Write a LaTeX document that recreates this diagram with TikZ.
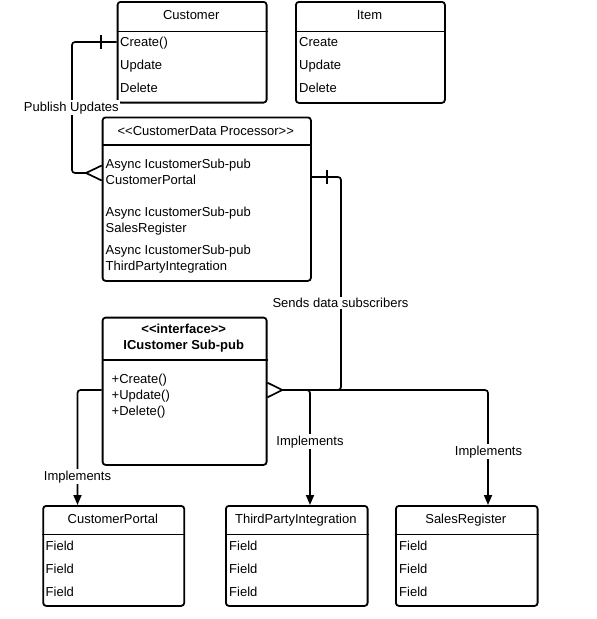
\documentclass[tikz,border=0pt]{standalone}
\usepackage{fontspec}
\setmainfont{Liberation Sans}
\usetikzlibrary{calc,arrows.meta}
\begin{document}
\begin{tikzpicture}[x=1pt,y=-1pt,
  umlbox/.style={draw, line width=1.8pt, rounded corners=3pt, rectangle, inner sep=0pt, anchor=north west},
  divider/.style={line width=1.2pt},
  txt/.style={inner sep=0pt, anchor=base west, font=\fontsize{13}{16}\selectfont},
  ttl/.style={inner sep=0pt, anchor=base, font=\fontsize{13}{16}\selectfont},
  btl/.style={inner sep=0pt, anchor=base, font=\fontsize{13}{16}\selectfont\bfseries},
  conn/.style={line width=1.7pt, rounded corners=3pt},
  endmark/.style={line width=1.7pt},
  arr/.style={-{Triangle[width=8pt,length=10pt]}},
  lbl/.style={fill=white, inner sep=1.2pt, anchor=base, font=\fontsize{13}{16}\selectfont}]
\useasboundingbox (0,0) rectangle (597,619);

% Customer
\node[umlbox, minimum width=149pt, minimum height=100.7pt] (cust) at (116.7,1) {};
\draw[divider] (cust.west |- 0,31.7) -- (cust.east |- 0,31.7);
\node[ttl] (custT) at (191.2,19.5) {Customer};
\node[txt] (custC) at (120,46) {Create()};
\node[txt] (custU) at (120,69) {Update};
\node[txt] (custD) at (120,92.5) {Delete};

% Item
\node[umlbox, minimum width=149pt, minimum height=101pt] (item) at (295,1) {};
\draw[divider] (item.west |- 0,31.7) -- (item.east |- 0,31.7);
\node[ttl] (itemT) at (369.5,19.5) {Item};
\node[txt] (itemC) at (299,46) {Create};
\node[txt] (itemU) at (299,69) {Update};
\node[txt] (itemD) at (299,92.5) {Delete};

% Processor
\node[umlbox, minimum width=208.3pt, minimum height=163.5pt] (proc) at (101.7,116.5) {};
\draw[divider] (proc.west |- 0,145) -- (proc.east |- 0,145);
\node[ttl] (procT) at (205.8,135) {<{}<CustomerData Processor>{}>};
\node[txt] (p1a) at (105.5,168.7) {Async IcustomerSub-pub};
\node[txt] (p1b) at (105.5,184.7) {CustomerPortal};
\node[txt] (p2a) at (105.5,216) {Async IcustomerSub-pub};
\node[txt] (p2b) at (105.5,232) {SalesRegister};
\node[txt] (p3a) at (105.5,254) {Async IcustomerSub-pub};
\node[txt] (p3b) at (105.5,270) {ThirdPartyIntegration};

% Interface
\node[umlbox, minimum width=164pt, minimum height=147.3pt] (iface) at (101.7,316.7) {};
\draw[divider] (iface.west |- 0,360) -- (iface.east |- 0,360);
\node[btl] (ifT1) at (183.7,333.3) {<{}<interface>{}>};
\node[btl] (ifT2) at (183.7,349.3) {ICustomer Sub-pub};
\node[txt] (ifC) at (111.5,383.3) {+Create()};
\node[txt] (ifU) at (111.5,399.3) {+Update()};
\node[txt] (ifD) at (111.5,415.7) {+Delete()};

% Bottom classes
\node[umlbox, minimum width=141pt, minimum height=100pt] (cp) at (42.3,505) {};
\draw[divider] (cp.west |- 0,534.3) -- (cp.east |- 0,534.3);
\node[ttl] (cpT) at (112.8,523.3) {CustomerPortal};
\node[txt] (cpF1) at (45.5,550) {Field};
\node[txt] (cpF2) at (45.5,573.3) {Field};
\node[txt] (cpF3) at (45.5,596.7) {Field};

\node[umlbox, minimum width=141.7pt, minimum height=100pt] (tp) at (225,505) {};
\draw[divider] (tp.west |- 0,534.3) -- (tp.east |- 0,534.3);
\node[ttl] (tpT) at (295.8,523.3) {ThirdPartyIntegration};
\node[txt] (tpF1) at (229,550) {Field};
\node[txt] (tpF2) at (229,573.3) {Field};
\node[txt] (tpF3) at (229,596.7) {Field};

\node[umlbox, minimum width=141.7pt, minimum height=100pt] (sr) at (395,505) {};
\draw[divider] (sr.west |- 0,534.3) -- (sr.east |- 0,534.3);
\node[ttl] (srT) at (465.8,523.3) {SalesRegister};
\node[txt] (srF1) at (399,550) {Field};
\node[txt] (srF2) at (399,573.3) {Field};
\node[txt] (srF3) at (399,596.7) {Field};

% Connector coordinates
\coordinate (pubS) at (cust.west |- 0,42);
\coordinate (pubE) at ($(proc.west |- 0,173)+(-15.7,0)$);
\coordinate (sndS) at (proc.east |- 0,177);
\coordinate (hub) at ($(iface.east |- 0,390)+(14.8,0)$);

% Publish Updates
\draw[conn] (pubS) -| (72,173) -- (pubE);
\draw[endmark] ($(pubS)+(-15.7,-7)$) -- ++(0,14);
\draw[endmark] ($(proc.west |- 0,173)+(0,-7.5)$) -- (pubE) -- ($(proc.west |- 0,173)+(0,7.5)$);

% Sends data subscribers
\draw[conn] (sndS) -| (341,390) -- (hub);
\draw[endmark] ($(sndS)+(15.3,-7)$) -- ++(0,14);
\draw[endmark] ($(iface.east |- 0,390)+(0,-7.3)$) -- (hub) -- ($(iface.east |- 0,390)+(0,7.3)$);

% Implements
\draw[conn,arr] (iface.west |- 0,390) -| (cp.north -| 77.5,0);
\draw[conn,arr] (hub) -| (tp.north -| 310,0);
\draw[conn,arr] (hub) -| (sr.north -| 488,0);

% Labels
\node[lbl] (lPub) at (71.3,111) {Publish Updates};
\node[lbl] (lSnd) at (340.5,307.7) {Sends data subscribers};
\node[lbl] (lI1) at (77.5,480) {Implements};
\node[lbl] (lI2) at (310,445) {Implements};
\node[lbl] (lI3) at (488.5,455) {Implements};
\end{tikzpicture}
\end{document}
